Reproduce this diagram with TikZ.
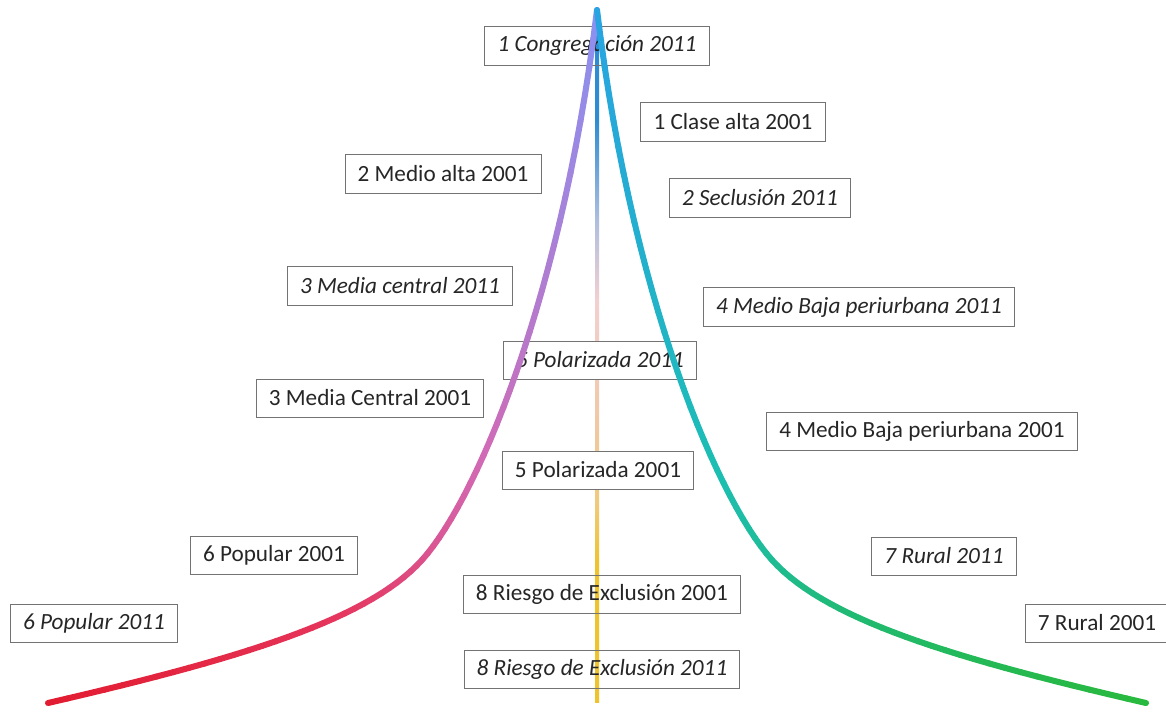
\documentclass[tikz,border=0pt]{standalone}
\usepackage{fontspec}
\setmainfont{Carlito}
% colours of the three lines
\definecolor{lA}{RGB}{140,145,240}
\definecolor{lB}{RGB}{210,105,180}
\definecolor{lC}{RGB}{230,55,95}
\definecolor{lD}{RGB}{226,28,48}
\definecolor{rA}{RGB}{40,165,225}
\definecolor{rB}{RGB}{28,190,180}
\definecolor{rC}{RGB}{32,186,115}
\definecolor{rD}{RGB}{40,185,60}
\definecolor{cBlue}{RGB}{45,140,210}
\definecolor{cGrey}{RGB}{175,190,222}
\definecolor{cPink}{RGB}{242,208,208}
\definecolor{cPeach}{RGB}{240,200,165}
\definecolor{cOrange}{RGB}{240,202,125}
\definecolor{cYellow}{RGB}{238,195,45}
\pgfdeclareverticalshading{centreshade}{100bp}{color(0bp)=(cYellow); color(35bp)=(cYellow);
  color(39.5bp)=(cOrange); color(45.3bp)=(cPeach); color(54bp)=(cPink);
  color(59.8bp)=(cGrey); color(67bp)=(cBlue); color(100bp)=(cBlue)}
\begin{document}
\begin{tikzpicture}[x=0.025cm,y=-0.025cm]
        \tikzset{lbl/.style={draw=black!55, line width=0.7pt, inner xsep=9pt, minimum height=0.95cm,
            text=black!85, font=\fontsize{16.5}{19}\selectfont},
          lbl11/.style={lbl, font=\fontsize{16.5}{19}\selectfont\itshape},
          curve/.style={line width=4.3pt, line cap=round}}
        \fill [white] (0,0) rectangle (1166,727);
        \useasboundingbox (0,0) rectangle (1166,727);
        % centre line
        \shade [shading=centreshade] (595,10) rectangle (599,702);
        % labels
        \node [lbl11] (congr11) at (597,46) {1 Congregación 2011};
        \node [lbl] (clase01) at (733,122) {1 Clase alta 2001};
        \node [lbl11] (seclu11) at (760,198) {2 Seclusión 2011};
        \node [lbl] (medalta01) at (443,174) {2 Medio alta 2001};
        \node [lbl11] (medcen11) at (400,286) {3 Media central 2011};
        \node [lbl11, fill=white] (polar11) at (600,360) {5 Polarizada 2011};
        \node [lbl] (medcen01) at (370,398) {3 Media Central 2001};
        \node [lbl11] (mbaja11) at (859,307) {4 Medio Baja periurbana 2011};
        \node [lbl] (mbaja01) at (922,431) {4 Medio Baja periurbana 2001};
        \node [lbl, fill=white] (polar01) at (598,470) {5 Polarizada 2001};
        \node [lbl] (pop01) at (274,555) {6 Popular 2001};
        \node [lbl11] (pop11) at (94,623) {6 Popular 2011};
        \node [lbl] (riesgo01) at (602,594) {8 Riesgo de Exclusión 2001};
        \node [lbl11] (riesgo11) at (602,669) {8 Riesgo de Exclusión 2011};
        \node [lbl11] (rural11) at (944,556) {7 Rural 2011};
        \node [lbl] (rural01) at (1097,623) {7 Rural 2001};
        % left and right curves
        \coordinate (apex) at (597,10);
        \coordinate (lmid) at (422,560);
        \coordinate (rmid) at (772,560);
        \coordinate (lend) at (48,703);
        \coordinate (rend) at (1146,703);
        \foreach \i in {0,...,30} {
          \pgfmathtruncatemacro\k{\i+30}
          \path (apex) .. controls (562,300) and (476,500) .. (lmid) coordinate [pos=\i/30] (l\i);
          \path (lmid) .. controls (368.5,619.4) and (243,658) .. (lend) coordinate [pos=\i/30] (l\k);
          \path (apex) .. controls (632,300) and (718,500) .. (rmid) coordinate [pos=\i/30] (r\i);
          \path (rmid) .. controls (825.5,619.4) and (951,658) .. (rend) coordinate [pos=\i/30] (r\k);
        }
        \foreach \i in {0,...,59} {
          \pgfmathtruncatemacro\j{\i+1}
          \ifnum\i<20
            \pgfmathtruncatemacro\p{5*\i}\colorlet{segl}{lB!\p!lA}\colorlet{segr}{rB!\p!rA}
          \else\ifnum\i<40
            \pgfmathtruncatemacro\p{5*(\i-20)}\colorlet{segl}{lC!\p!lB}\colorlet{segr}{rC!\p!rB}
          \else
            \pgfmathtruncatemacro\p{5*(\i-40)}\colorlet{segl}{lD!\p!lC}\colorlet{segr}{rD!\p!rC}
          \fi\fi
          \draw [curve, segl] (l\i) -- (l\j);
          \draw [curve, segr] (r\i) -- (r\j);
        }
\end{tikzpicture}
\end{document}
